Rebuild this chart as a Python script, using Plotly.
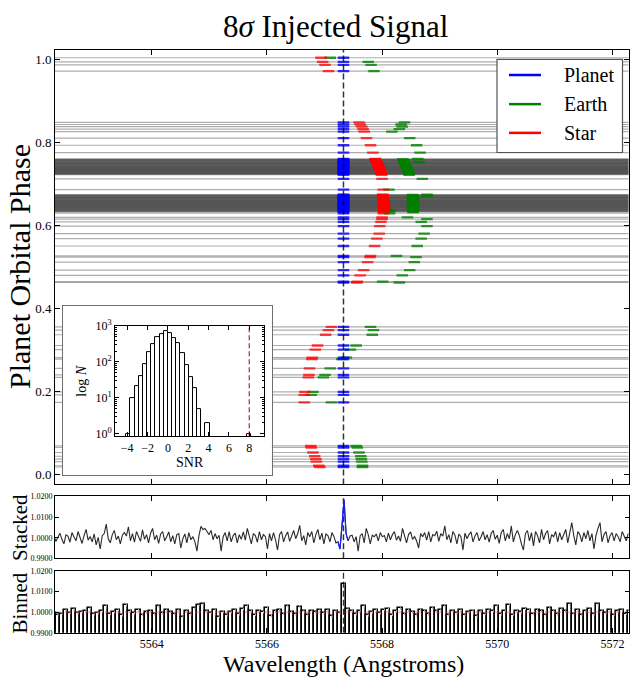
import plotly.graph_objects as go

W, H = 631, 681
SERIF = "Liberation Serif"

# ---------------- data ----------------
TITLE = "8<i>σ</i> Injected Signal"
PLANET_WL = 5567.33
X_RANGE = [5562.32, 5572.28]
PHASE_RANGE = [-0.025, 1.023]
WL_TICKS = [5564, 5566, 5568, 5570, 5572]
PHASE_TICKS = [0.0, 0.2, 0.4, 0.6, 0.8, 1.0]
SEG_HALF = 0.10   # half width (Angstrom) of the line features drawn on each row

ROW_PHASE = [
    1.004, 0.994, 0.987, 0.972,
    0.848, 0.843, 0.838, 0.832, 0.826, 0.810, 0.793, 0.775,
    # dense group 1
    0.760, 0.759, 0.758, 0.757, 0.756, 0.755, 0.754, 0.753, 0.752, 0.751,
    0.750, 0.749, 0.748, 0.747, 0.746, 0.745, 0.744, 0.743, 0.742, 0.741,
    0.740, 0.739, 0.738, 0.737, 0.736, 0.735, 0.734, 0.733, 0.732, 0.731,
    0.730, 0.729, 0.728, 0.727, 0.726, 0.725, 0.724, 0.723, 0.722,
    0.712, 0.686,
    # dense group 2
    0.674, 0.673, 0.672, 0.671, 0.670, 0.669, 0.668, 0.667, 0.666, 0.665, 0.664,
    0.663, 0.662, 0.661, 0.660, 0.659, 0.658, 0.657, 0.656, 0.655, 0.654, 0.653,
    0.652, 0.651, 0.650, 0.649, 0.648, 0.647, 0.646, 0.645, 0.644, 0.643, 0.642,
    0.641, 0.640, 0.639, 0.638, 0.637, 0.636, 0.635, 0.634, 0.633, 0.632,
    0.629, 0.619, 0.615, 0.608, 0.598, 0.580, 0.568, 0.550, 0.526, 0.523, 0.511,
    0.492, 0.479, 0.464, 0.462,
    0.355, 0.347, 0.336, 0.310, 0.300, 0.281, 0.277, 0.255, 0.239, 0.233, 0.198,
    0.191, 0.173,
    0.068, 0.064, 0.052, 0.043, 0.036, 0.030, 0.020, 0.017,
]
ROW_STAR = [
    5566.94, 5566.97, 5567.01, 5567.07,
    5567.60, 5567.62, 5567.65, 5567.67, 5567.69, 5567.73, 5567.80, 5567.84,
    5567.88, 5567.88, 5567.89, 5567.89, 5567.89, 5567.90, 5567.90, 5567.91, 5567.91, 5567.91,
    5567.91, 5567.92, 5567.92, 5567.93, 5567.93, 5567.93, 5567.93, 5567.94, 5567.94, 5567.94,
    5567.94, 5567.95, 5567.95, 5567.96, 5567.96, 5567.96, 5567.96, 5567.97, 5567.97, 5567.97,
    5567.97, 5567.98, 5567.98, 5567.98, 5567.98, 5567.99, 5567.99, 5567.99, 5567.99,
    5568.00, 5568.02,
    5568.01, 5568.01, 5568.02, 5568.02, 5568.02, 5568.02, 5568.01, 5568.02, 5568.02, 5568.03, 5568.03,
    5568.02, 5568.02, 5568.02, 5568.03, 5568.03, 5568.03, 5568.02, 5568.03, 5568.03, 5568.03, 5568.04,
    5568.03, 5568.03, 5568.03, 5568.04, 5568.04, 5568.03, 5568.03, 5568.04, 5568.04, 5568.04, 5568.04,
    5568.03, 5568.04, 5568.04, 5568.04, 5568.04, 5568.03, 5568.04, 5568.04, 5568.04, 5568.03,
    5568.02, 5568.00, 5568.00, 5567.98, 5567.96, 5567.95, 5567.91, 5567.87, 5567.80, 5567.79, 5567.75,
    5567.68, 5567.62, 5567.57, 5567.56,
    5567.12, 5567.07, 5567.02, 5566.88, 5566.84, 5566.79, 5566.78, 5566.74, 5566.73, 5566.72, 5566.66,
    5566.65, 5566.65,
    5566.76, 5566.77, 5566.80, 5566.83, 5566.85, 5566.86, 5566.90, 5566.92,
]
ROW_EARTH = [
    5567.10, 5567.76, 5567.81, 5567.86,
    5568.39, 5568.33, 5568.35, 5568.30, 5568.17, 5568.48, 5568.60, 5568.66,
    5568.62, 5568.36, 5568.36, 5568.37, 5568.37, 5568.38, 5568.38, 5568.64, 5568.64, 5568.39,
    5568.39, 5568.40, 5568.40, 5568.40, 5568.40, 5568.41, 5568.41, 5568.42, 5568.42, 5568.42,
    5568.42, 5568.43, 5568.43, 5568.43, 5568.44, 5568.44, 5568.44, 5568.45, 5568.45, 5568.45,
    5568.45, 5568.46, 5568.46, 5568.46, 5568.46, 5568.47, 5568.47, 5568.47, 5568.47,
    5568.70, 5568.12,
    5568.78, 5568.53, 5568.53, 5568.78, 5568.78, 5568.54, 5568.54, 5568.53, 5568.53, 5568.54, 5568.54,
    5568.55, 5568.55, 5568.54, 5568.54, 5568.53, 5568.53, 5568.54, 5568.54, 5568.55, 5568.55, 5568.54,
    5568.54, 5568.53, 5568.53, 5568.54, 5568.54, 5568.55, 5568.55, 5568.54, 5568.54, 5568.54, 5568.53,
    5568.53, 5568.55, 5568.55, 5568.54, 5568.54, 5568.13, 5568.13, 5568.54, 5568.54, 5568.54,
    5568.13, 5568.44, 5568.78, 5568.68, 5568.78, 5568.73, 5568.68, 5568.61, 5568.25, 5568.59, 5568.56,
    5568.48, 5568.35, 5568.01, 5568.30,
    5567.80, 5567.85, 5567.83, 5567.55, 5567.45, 5567.38, 5567.30, 5567.10, 5567.01, 5566.98, 5566.80,
    5566.77, 5567.12,
    5567.55, 5567.57, 5567.60, 5567.63, 5567.64, 5567.65, 5567.66, 5567.66,
]
assert len(ROW_PHASE) == len(ROW_STAR) == len(ROW_EARTH)

# stacked spectrum (wavelength grid: start + step * index)
STACK_WL0 = 5562.265
STACK_STEP = 0.035
STACKED = [
    0.9990, 1.0012, 0.9982, 1.0005, 1.0022, 0.9992, 0.9970, 1.0014, 1.0008, 0.9978, 1.0025, 1.0003,
    0.9985, 1.0030, 0.9995, 0.9972, 1.0010, 1.0040, 0.9988, 1.0006, 0.9980, 1.0018, 0.9965, 1.0002,
    0.9945, 1.0010, 1.0020, 1.0066, 0.9995, 0.9975, 1.0015, 1.0035, 0.9990, 1.0008, 0.9970, 1.0012,
    1.0025, 1.0008, 1.0053, 0.9985, 1.0020, 0.9978, 1.0030, 1.0005, 0.9982, 1.0038, 0.9992, 1.0015,
    0.9975, 1.0022, 1.0045, 0.9990, 1.0012, 0.9972, 1.0018, 1.0030, 0.9985, 1.0005, 1.0028, 0.9980,
    1.0010, 0.9970, 1.0015, 1.0020, 0.9950, 0.9995, 1.0018, 0.9975, 1.0025, 0.9990, 1.0005, 0.9980,
    0.9935, 1.0010, 1.0055, 1.0040, 1.0045, 1.0030, 1.0015, 1.0035, 0.9990, 1.0020, 0.9995, 1.0012,
    0.9935, 1.0005, 1.0025, 0.9985, 1.0030, 0.9980, 1.0010, 1.0022, 0.9975, 1.0015, 0.9992, 1.0028,
    0.9988, 1.0045, 1.0008, 0.9970, 1.0020, 1.0010, 0.9978, 1.0030, 0.9990, 1.0015, 1.0005, 0.9945,
    1.0020, 0.9985, 1.0025, 0.9990, 0.9940, 1.0015, 1.0030, 0.9980, 1.0010, 1.0028, 0.9982, 1.0012,
    1.0035, 0.9995, 1.0020, 1.0060, 0.9985, 1.0010, 0.9965, 1.0025, 1.0005, 1.0030, 0.9975, 1.0015,
    1.0040, 0.9990, 1.0022, 0.9970, 1.0018, 1.0010, 0.9980, 1.0025, 1.0005, 0.9975, 0.9980, 0.9945,
    1.0060, 1.0184, 1.0020, 0.9985,
    1.0008, 1.0012, 0.9980, 1.0005, 0.9935, 1.0010, 1.0020, 0.9975, 1.0045, 1.0015, 0.9970, 1.0012,
    1.0005, 1.0018, 0.9985, 1.0025, 1.0005, 1.0010, 0.9980, 1.0022, 0.9990, 1.0015, 1.0030, 0.9988,
    1.0008, 0.9982, 1.0045, 1.0010, 0.9975, 1.0015, 1.0028, 0.9992, 1.0005, 0.9985, 0.9950, 1.0020,
    1.0005, 1.0025, 0.9988, 1.0030, 0.9980, 1.0015, 1.0010, 1.0032, 0.9982, 1.0020, 1.0008, 1.0057,
    0.9990, 1.0015, 0.9975, 1.0030, 1.0012, 0.9970, 1.0018, 1.0005, 0.9940, 1.0022, 0.9995, 1.0015,
    1.0028, 0.9980, 1.0010, 1.0025, 0.9985, 1.0005, 1.0030, 0.9990, 1.0015, 0.9978, 1.0020, 1.0035,
    0.9992, 1.0012, 0.9972, 1.0025, 1.0040, 0.9985, 1.0020, 0.9995, 1.0057, 0.9980, 1.0015, 1.0035,
    1.0010, 0.9970, 0.9940, 1.0020, 1.0035, 0.9985, 1.0025, 0.9960, 1.0030, 1.0010, 0.9975, 1.0040,
    0.9990, 1.0020, 1.0035, 0.9970, 1.0015, 1.0005, 1.0030, 0.9980, 1.0025, 0.9990, 1.0015, 1.0040,
    0.9975, 1.0020, 1.0073, 1.0010, 0.9965, 1.0030, 1.0015, 0.9980, 1.0025, 0.9995, 1.0035, 0.9985,
    1.0020, 0.9945, 1.0010, 1.0045, 1.0073, 0.9980, 1.0015, 1.0030, 0.9975, 1.0010, 1.0025, 0.9985,
    1.0020, 1.0005, 0.9980, 1.0030, 1.0010, 0.9985, 1.0020, 1.0005,
]
PLANET_SLICE = (142, 148)   # samples of the stacked spectrum at the planet line

# binned spectrum (bin centres: start + step * index)
BIN_WL0 = 5562.30
BIN_STEP = 0.07
BINNED = [
    0.9995, 0.9988, 0.9992, 1.0010, 0.9997, 1.0015, 0.9995, 1.0000, 1.0008, 1.0018, 0.9990, 0.9995,
    1.0005, 1.0030, 0.9992, 1.0000, 1.0012, 0.9985, 1.0035, 1.0005, 0.9995, 1.0010, 0.9988, 1.0000,
    1.0008, 0.9990, 1.0028, 0.9995, 1.0012, 1.0003, 0.9992, 1.0010, 0.9978, 1.0005, 0.9990, 1.0018,
    1.0033, 1.0038, 1.0005, 0.9995, 1.0010, 0.9977, 1.0003, 0.9985, 1.0000, 1.0012, 0.9990, 1.0015,
    1.0029, 1.0005, 0.9988, 1.0008, 1.0000, 1.0020, 0.9982, 1.0005, 1.0010, 0.9992, 1.0030, 1.0003,
    0.9990, 1.0026, 1.0005, 0.9985, 1.0008, 1.0000, 1.0012, 0.9995, 1.0010, 0.9980, 1.0008, 0.9995,
    1.0135,
    1.0015, 1.0005, 0.9990, 1.0008, 1.0028, 0.9985, 1.0000, 1.0010, 0.9995, 1.0012, 1.0015,
    0.9988, 1.0005, 1.0018, 0.9992, 1.0010, 1.0000, 0.9985, 1.0012, 1.0005, 0.9990, 1.0020, 1.0008,
    1.0010, 1.0030, 0.9988, 1.0005, 0.9995, 1.0010, 0.9985, 1.0000, 1.0008, 0.9980, 1.0005, 0.9992,
    1.0012, 1.0005, 1.0032, 0.9990, 1.0008, 1.0037, 0.9988, 1.0005, 1.0000, 1.0015, 1.0010, 0.9992,
    1.0012, 1.0005, 0.9985, 1.0020, 1.0008, 0.9990, 1.0015, 1.0005, 1.0038, 0.9992, 1.0010, 0.9985,
    1.0005, 1.0015, 0.9990, 1.0038, 1.0008, 0.9995, 1.0010, 0.9988, 1.0005, 1.0010, 0.9992, 1.0005,
]
BIN_ERR = 0.0006
FLUX_RANGE = [0.99, 1.02]
FLUX_TICKS = [0.99, 1.00, 1.01, 1.02]

# SNR histogram (inset)
HIST_LEFT = -4.1
HIST_WIDTH = 0.41
HIST_COUNTS = [1, 10, 21, 41, 86, 186, 323, 490, 600, 745, 625, 460, 335, 182, 82,
               39, 19, 5, 0, 2, 0, 0, 0, 0, 0, 0, 0, 0, 0, 1]
SNR_INJECTED = 8
SNR_RANGE = [-5.2, 9.45]
LOGN_RANGE = [-0.075, 3.0]

# ---------------- geometry (pixels) ----------------
def px(x):
    return x / W

def py(y):
    return 1 - y / H

MAIN_X = [px(55), px(628.5)]
MAIN_Y = [py(485.7), py(42.7)]
STACK_Y = [py(561), py(498)]
BIN_Y = [py(637), py(574)]
FRAME_X = [px(62.5), px(271.7)]
FRAME_Y = [py(476), py(303.3)]
INSET_X = [px(115), px(264)]
INSET_Y = [py(436.7), py(324.3)]

BLUE = "rgba(0,0,255,0.8)"
GREEN = "rgba(0,128,0,0.8)"
RED = "rgba(255,0,0,0.75)"

fig = go.Figure()

def line(x, y, color, width, xa="x", ya="y", dash=None):
    fig.add_trace(go.Scatter(x=x, y=y, mode="lines", xaxis=xa, yaxis=ya,
                             line=dict(color=color, width=width, dash=dash),
                             hoverinfo="skip", showlegend=False))

# main panel: one spectrum per observation row
for ph in ROW_PHASE:
    line([X_RANGE[0] - 0.2, X_RANGE[1] + 0.2], [ph, ph], "rgba(0,0,0,0.32)", 1.2)
for ph, s, e in zip(ROW_PHASE, ROW_STAR, ROW_EARTH):
    line([e - SEG_HALF, e + SEG_HALF], [ph, ph], GREEN, 2.3)
    line([s - SEG_HALF, s + SEG_HALF], [ph, ph], RED, 2.3)
    line([PLANET_WL - SEG_HALF, PLANET_WL + SEG_HALF], [ph, ph], BLUE, 2.3)
line([PLANET_WL, PLANET_WL], PHASE_RANGE, "rgba(0,0,0,0.8)", 1.5, dash="6px,3px")

# stacked panel
stack_wl = [STACK_WL0 + STACK_STEP * i for i in range(len(STACKED))]
line([PLANET_WL, PLANET_WL], FLUX_RANGE, "rgba(0,0,0,0.8)", 1.5, "x2", "y2", dash="6px,3px")
line(stack_wl, STACKED, "#2a2a2a", 1.1, "x2", "y2")
a, b = PLANET_SLICE
line(stack_wl[a:b], STACKED[a:b], "#1a1aff", 1.2, "x2", "y2")

# binned panel
bin_wl = [BIN_WL0 + BIN_STEP * k for k in range(len(BINNED))]
fig.add_trace(go.Bar(x=bin_wl, y=BINNED, width=BIN_STEP, xaxis="x3", yaxis="y3",
                     marker=dict(color="white", line=dict(color="black", width=1.6)),
                     error_y=dict(type="constant", value=BIN_ERR, color="#b5b5b5",
                                  thickness=1, width=0),
                     hoverinfo="skip", showlegend=False))
line(X_RANGE, [1.0, 1.0], "rgba(255,60,60,0.35)", 2, "x3", "y3", dash="6px,4px")
line([PLANET_WL, PLANET_WL], FLUX_RANGE, "rgba(0,0,0,0.8)", 1.3, "x3", "y3", dash="6px,3px")

# inset frame (white box)
fig.add_trace(go.Scatter(x=[0, 1, 1, 0, 0], y=[0, 0, 1, 1, 0], mode="lines", fill="toself",
                         fillcolor="white", line=dict(width=0, color="white"),
                         xaxis="x4", yaxis="y4", hoverinfo="skip", showlegend=False))

# inset histogram
hx = [HIST_LEFT + HIST_WIDTH * (j + 0.5) for j, c in enumerate(HIST_COUNTS) if c > 0]
hy = [c for c in HIST_COUNTS if c > 0]
fig.add_trace(go.Bar(x=hx, y=hy, width=HIST_WIDTH, xaxis="x5", yaxis="y5",
                     marker=dict(color="white", line=dict(color="black", width=1)),
                     hoverinfo="skip", showlegend=False))
line([SNR_INJECTED, SNR_INJECTED], [10 ** LOGN_RANGE[0], 10 ** LOGN_RANGE[1]],
     "rgba(210,0,0,0.9)", 1.2, "x5", "y5", dash="5px,3px")

# ---------------- axes ----------------
def wl_axis(anchor, labels):
    return dict(domain=MAIN_X, range=X_RANGE, anchor=anchor, showline=True, linecolor="black",
                linewidth=1, mirror="ticks", ticks="inside", ticklen=5, tickcolor="black",
                tickvals=WL_TICKS, showticklabels=labels, showgrid=False, zeroline=False,
                tickfont=dict(family=SERIF, size=12, color="black"))

def flux_axis(domain, anchor):
    return dict(domain=domain, range=FLUX_RANGE, anchor=anchor, showline=True, linecolor="black",
                linewidth=1, mirror="ticks", ticks="inside", ticklen=4, tickcolor="black",
                tickvals=FLUX_TICKS, tickformat=".4f", showgrid=False, zeroline=False,
                tickfont=dict(family=SERIF, size=8, color="black"))

minor_log = [m * 10 ** d for d in range(3) for m in range(2, 10)]

fig.update_layout(
    width=W, height=H, autosize=False,
    margin=dict(l=0, r=0, t=0, b=0),
    paper_bgcolor="white", plot_bgcolor="white",
    showlegend=False, bargap=0,
    xaxis=wl_axis("y", False),
    yaxis=dict(domain=MAIN_Y, range=PHASE_RANGE, anchor="x", showline=True, linecolor="black",
               linewidth=1, mirror="ticks", ticks="inside", ticklen=5, tickcolor="black",
               tickvals=PHASE_TICKS, tickformat=".1f", showgrid=False, zeroline=False,
               tickfont=dict(family=SERIF, size=13, color="black")),
    xaxis2=wl_axis("y2", False),
    yaxis2=flux_axis(STACK_Y, "x2"),
    xaxis3=wl_axis("y3", True),
    yaxis3=flux_axis(BIN_Y, "x3"),
    xaxis4=dict(domain=FRAME_X, range=[0, 1], anchor="y4", showline=True, mirror=True,
                linecolor="#6e6e6e", linewidth=1.3, ticks="", showticklabels=False,
                showgrid=False, zeroline=False),
    yaxis4=dict(domain=FRAME_Y, range=[0, 1], anchor="x4", showline=True, mirror=True,
                linecolor="#6e6e6e", linewidth=1.3, ticks="", showticklabels=False,
                showgrid=False, zeroline=False),
    xaxis5=dict(domain=INSET_X, range=SNR_RANGE, anchor="y5", showline=True, mirror="ticks",
                linecolor="black", linewidth=1, ticks="inside", ticklen=4, tickcolor="black",
                tickvals=[-4, -2, 0, 2, 4, 6, 8], showgrid=False, zeroline=False,
                tickfont=dict(family=SERIF, size=12, color="black")),
    yaxis5=dict(domain=INSET_Y, type="log", range=LOGN_RANGE, anchor="x5", showline=True,
                mirror="ticks", linecolor="black", linewidth=1, ticks="inside", ticklen=4,
                tickcolor="black", tickvals=[1, 10, 100, 1000],
                ticktext=["10<sup>0</sup>", "10<sup>1</sup>", "10<sup>2</sup>", "10<sup>3</sup>"],
                minor=dict(ticks="inside", ticklen=2, tickcolor="black", tickvals=minor_log),
                showgrid=False, zeroline=False,
                tickfont=dict(family=SERIF, size=12, color="black")),
)

# ---------------- texts ----------------
def text(x, y, s, size, angle=0, xanchor="center"):
    fig.add_annotation(x=x, y=y, xref="paper", yref="paper", text=s, showarrow=False,
                       textangle=angle, xanchor=xanchor, yanchor="middle",
                       font=dict(family=SERIF, size=size, color="black"))

text(px(335), py(19), TITLE, 31)
text(px(20), py(264), "Planet Orbital Phase", 30, angle=-90)
text(px(20), py(530), "Stacked", 21, angle=-90)
text(px(20), py(607), "Binned", 21, angle=-90)
text(px(343), py(669), "Wavelength (Angstroms)", 24)
text(px(189.5), py(463), "SNR", 14)
text(px(82), py(381), "log <i>N</i>", 14, angle=-90)

# legend (drawn box)
fig.add_shape(type="rect", xref="paper", yref="paper", x0=px(497), x1=px(622.5),
              y0=py(147.3), y1=py(52.3), fillcolor="white",
              line=dict(color="#555555", width=1.2), layer="above")
for yy, name, col in [(68.3, "Planet", "blue"), (98, "Earth", "green"), (127.3, "Star", "red")]:
    fig.add_shape(type="line", xref="paper", yref="paper", x0=px(509), x1=px(541),
                  y0=py(yy), y1=py(yy), line=dict(color=col, width=2.5), layer="above")
    text(px(562), py(yy), name, 20, xanchor="left")

fig.write_html("out.html")
